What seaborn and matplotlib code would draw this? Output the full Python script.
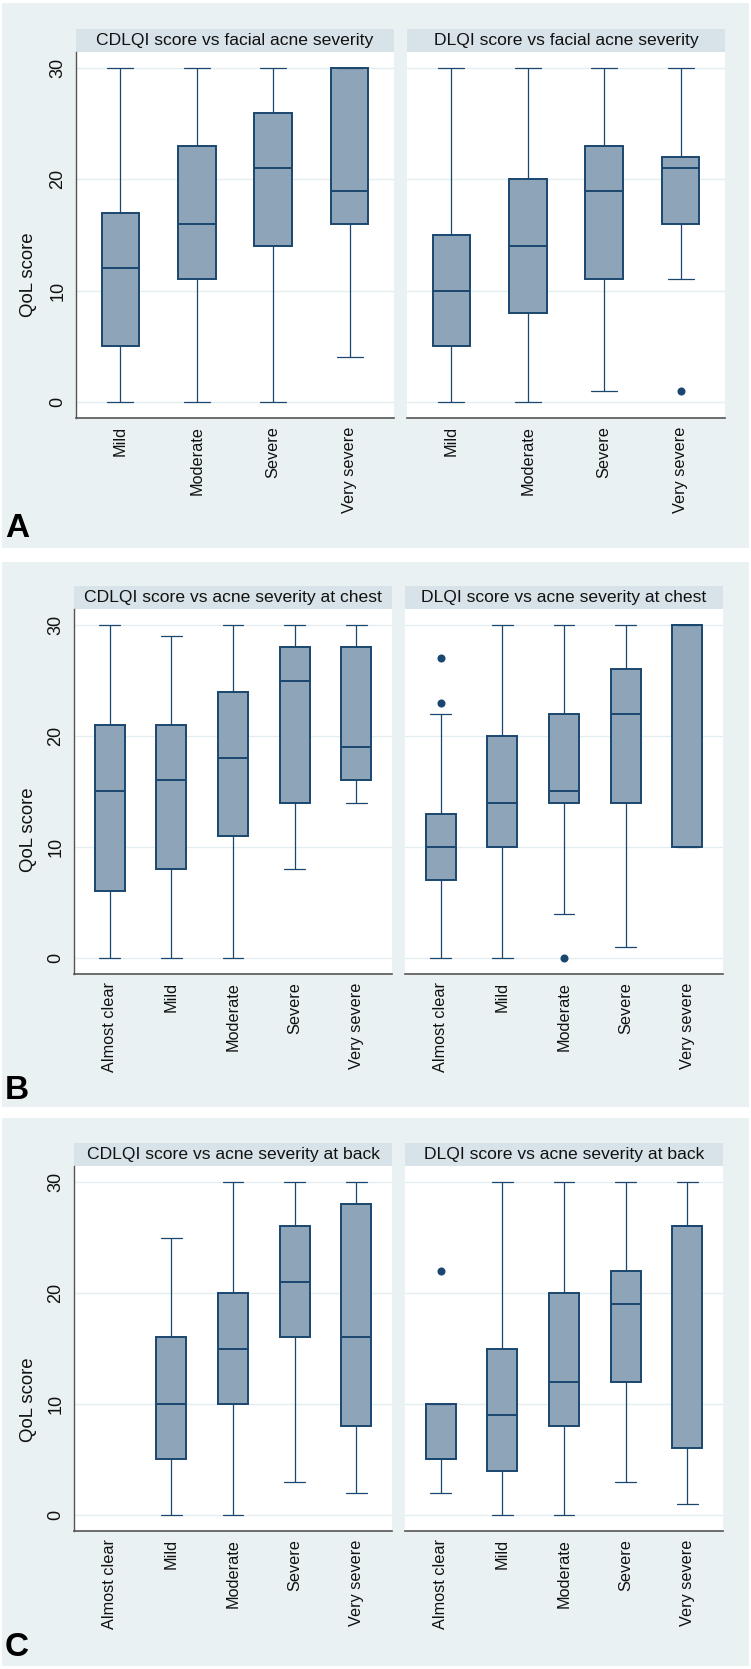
import matplotlib

matplotlib.use("Agg")
import matplotlib.pyplot as plt
import pandas as pd
import seaborn as sns
from matplotlib.patches import Rectangle

# ---- data ---------------------------------------------------------------
# each box: low whisker, q1, median, q3, high whisker (None = no patients)
FACE_CATS = ["Mild", "Moderate", "Severe", "Very severe"]
BODY_CATS = ["Almost clear", "Mild", "Moderate", "Severe", "Very severe"]

cdlqi_face_lo = [0, 0, 0, 4]
cdlqi_face_q1 = [5, 11, 14, 16]
cdlqi_face_med = [12, 16, 21, 19]
cdlqi_face_q3 = [17, 23, 26, 30]
cdlqi_face_hi = [30, 30, 30, 30]
cdlqi_face_out = []

dlqi_face_lo = [0, 0, 1, 11]
dlqi_face_q1 = [5, 8, 11, 16]
dlqi_face_med = [10, 14, 19, 21]
dlqi_face_q3 = [15, 20, 23, 22]
dlqi_face_hi = [30, 30, 30, 30]
dlqi_face_out = [("Very severe", 1)]

cdlqi_chest_lo = [0, 0, 0, 8, 14]
cdlqi_chest_q1 = [6, 8, 11, 14, 16]
cdlqi_chest_med = [15, 16, 18, 25, 19]
cdlqi_chest_q3 = [21, 21, 24, 28, 28]
cdlqi_chest_hi = [30, 29, 30, 30, 30]
cdlqi_chest_out = []

dlqi_chest_lo = [0, 0, 4, 1, 10]
dlqi_chest_q1 = [7, 10, 14, 14, 10]
dlqi_chest_med = [10, 14, 15, 22, 30]
dlqi_chest_q3 = [13, 20, 22, 26, 30]
dlqi_chest_hi = [22, 30, 30, 30, 30]
dlqi_chest_out = [("Almost clear", 23), ("Almost clear", 27), ("Moderate", 0)]

cdlqi_back_lo = [None, 0, 0, 3, 2]
cdlqi_back_q1 = [None, 5, 10, 16, 8]
cdlqi_back_med = [None, 10, 15, 21, 16]
cdlqi_back_q3 = [None, 16, 20, 26, 28]
cdlqi_back_hi = [None, 25, 30, 30, 30]
cdlqi_back_out = []

dlqi_back_lo = [2, 0, 0, 3, 1]
dlqi_back_q1 = [5, 4, 8, 12, 6]
dlqi_back_med = [5, 9, 12, 19, 26]
dlqi_back_q3 = [10, 15, 20, 22, 26]
dlqi_back_hi = [10, 30, 30, 30, 30]
dlqi_back_out = [("Almost clear", 22)]

# ---- style ----------------------------------------------------------------
NAVY = "#1A476F"
BOX_FILL = "#8EA4B8"
PANEL_BG = "#EAF1F3"
STRIP_BG = "#D7E3E9"
GRID = "#E4EDF0"
AXIS = "#555555"

sns.set_style("white")
plt.rcParams["font.family"] = ["Liberation Sans", "DejaVu Sans"]

W, H = 751, 1669
fig = plt.figure(figsize=(W / 100, H / 100), dpi=100)
fig.patch.set_facecolor("white")


def fx(px):
    return px / W


def fy(py):
    return 1 - py / H


def add_rect(x0, y0, x1, y1, color):
    fig.add_artist(Rectangle((fx(x0), fy(y1)), fx(x1) - fx(x0), fy(y0) - fy(y1),
                             transform=fig.transFigure, facecolor=color,
                             edgecolor="none", zorder=-5))


def summary_table(cats, lo, q1, med, q3, hi):
    rows = []
    for i, cat in enumerate(cats):
        if lo[i] is None:
            continue
        for v in (lo[i], q1[i], med[i], q3[i], hi[i]):
            rows.append({"severity": cat, "score": v})
    return pd.DataFrame(rows)


def draw_panel(x0, x1, y0, y1, cats, stats, outliers, title, first):
    ax = fig.add_axes([fx(x0), fy(y1), fx(x1) - fx(x0), fy(y0) - fy(y1)])
    table = summary_table(cats, *stats)
    sns.boxplot(data=table, x="severity", y="score", order=cats, whis=(0, 100),
                width=0.49, color=BOX_FILL, saturation=1, linecolor=NAVY,
                showfliers=False, capwidths=0.34,
                boxprops={"linewidth": 1.4}, medianprops={"linewidth": 1.4},
                whiskerprops={"linewidth": 0.9}, capprops={"linewidth": 0.9},
                ax=ax)
    if outliers:
        out = pd.DataFrame(outliers, columns=["severity", "score"])
        sns.stripplot(data=out, x="severity", y="score", order=cats, jitter=False,
                      color=NAVY, size=5.8, linewidth=0, ax=ax)
    n = len(cats)
    ax.set_xlim(-0.58, n - 1 + 0.58)
    ax.set_ylim(-1.45, 31.45)
    ax.set_yticks([0, 10, 20, 30])
    ax.set_xticks(range(n))
    ax.set_xticklabels(cats, rotation=90, fontsize=11.7, color="#111111")
    ax.set_xlabel("")
    ax.set_ylabel("")
    ax.yaxis.grid(True, color=GRID, linewidth=1.0)
    ax.xaxis.grid(False)
    ax.set_axisbelow(True)
    ax.tick_params(axis="x", length=0, pad=6)
    for side in ("top", "right"):
        ax.spines[side].set_visible(False)
    ax.spines["bottom"].set_color(AXIS)
    ax.spines["bottom"].set_linewidth(1.2)
    if first:
        ax.spines["left"].set_color(AXIS)
        ax.spines["left"].set_linewidth(1.0)
        ax.tick_params(axis="y", length=4, width=0.9, color=AXIS, pad=3,
                       labelsize=13, labelcolor="#111111")
        for lab in ax.get_yticklabels():
            lab.set_rotation(90)
            lab.set_va("center")
    else:
        ax.spines["left"].set_visible(False)
        ax.tick_params(axis="y", length=0, labelleft=False)
    # title strip
    add_rect(x0, y0 - 23, x1, y0, STRIP_BG)
    fig.text(fx((x0 + x1) / 2), fy(y0 - 11.5), title, ha="center", va="center",
             fontsize=12.6, color="#111111")
    return ax


# panel backgrounds
add_rect(2, 3, 749, 548, PANEL_BG)
add_rect(2, 562, 749, 1107, PANEL_BG)
add_rect(2, 1118, 749, 1666, PANEL_BG)

panels = [
    dict(top=52, bottom=418, lx=(76, 394), rx=(407, 725), cats=FACE_CATS,
         left=((cdlqi_face_lo, cdlqi_face_q1, cdlqi_face_med, cdlqi_face_q3, cdlqi_face_hi), cdlqi_face_out,
               "CDLQI score vs facial acne severity"),
         right=((dlqi_face_lo, dlqi_face_q1, dlqi_face_med, dlqi_face_q3, dlqi_face_hi), dlqi_face_out,
                "DLQI score vs facial acne severity"),
         letter="A", letter_y=537, ylab_y=275),
    dict(top=609, bottom=974, lx=(74, 392), rx=(405, 723), cats=BODY_CATS,
         left=((cdlqi_chest_lo, cdlqi_chest_q1, cdlqi_chest_med, cdlqi_chest_q3, cdlqi_chest_hi), cdlqi_chest_out,
               "CDLQI score vs acne severity at chest"),
         right=((dlqi_chest_lo, dlqi_chest_q1, dlqi_chest_med, dlqi_chest_q3, dlqi_chest_hi), dlqi_chest_out,
                "DLQI score vs acne severity at chest"),
         letter="B", letter_y=1099, ylab_y=830),
    dict(top=1166, bottom=1531, lx=(74, 392), rx=(405, 723), cats=BODY_CATS,
         left=((cdlqi_back_lo, cdlqi_back_q1, cdlqi_back_med, cdlqi_back_q3, cdlqi_back_hi), cdlqi_back_out,
               "CDLQI score vs acne severity at back"),
         right=((dlqi_back_lo, dlqi_back_q1, dlqi_back_med, dlqi_back_q3, dlqi_back_hi), dlqi_back_out,
                "DLQI score vs acne severity at back"),
         letter="C", letter_y=1656, ylab_y=1400),
]

for p in panels:
    stats, outs, title = p["left"]
    draw_panel(p["lx"][0], p["lx"][1], p["top"], p["bottom"], p["cats"], stats, outs, title, True)
    stats, outs, title = p["right"]
    draw_panel(p["rx"][0], p["rx"][1], p["top"], p["bottom"], p["cats"], stats, outs, title, False)
    fig.text(fx(28.5), fy(p["ylab_y"]), "QoL score", rotation=90, ha="center", va="center",
             fontsize=13.4, color="#111111")
    fig.text(fx(5), fy(p["letter_y"]), p["letter"], ha="left", va="baseline",
             fontsize=24, fontweight="bold", color="black")

fig.savefig("out.png", dpi=100, facecolor="white")
